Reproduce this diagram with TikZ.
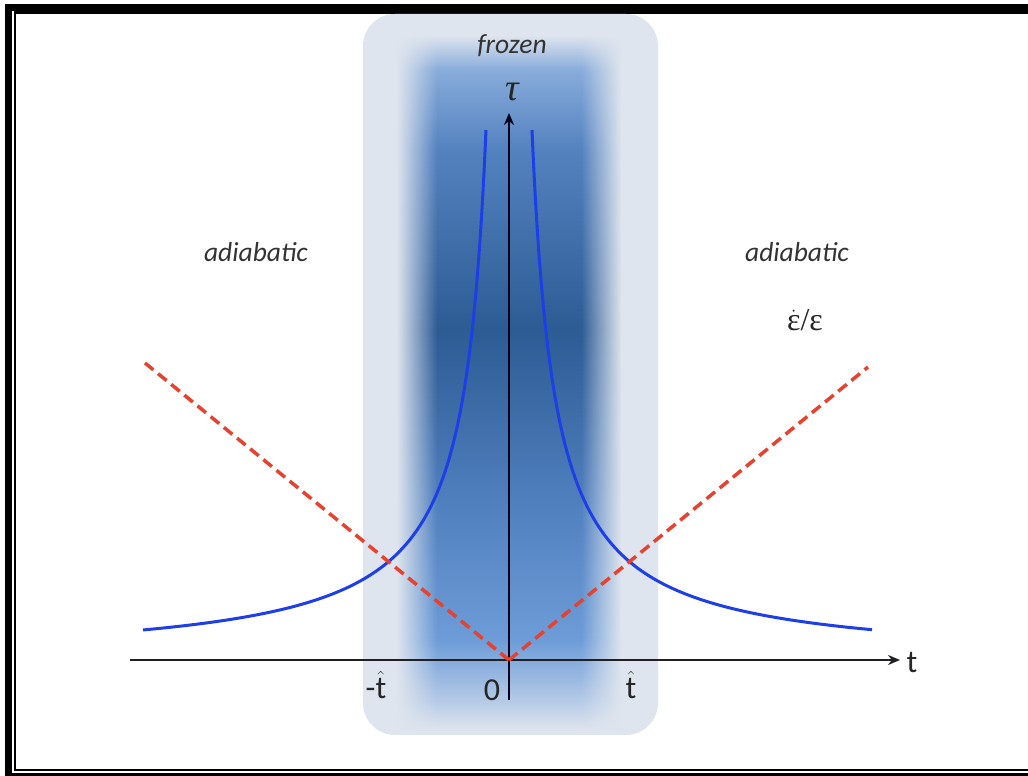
\documentclass[tikz,border=0pt]{standalone}
\usepackage{fontspec}
\setmainfont{Carlito}
\newfontfamily\greekfont{Liberation Serif}
\usetikzlibrary{arrows.meta,fadings}
\definecolor{frozenbg}{HTML}{DFE5EE}
\definecolor{frozenA}{HTML}{B3C9E6}
\definecolor{frozenB}{HTML}{6D9CD8}
\definecolor{frozenC}{HTML}{4F7FBD}
\definecolor{frozenD}{HTML}{2D5B94}
\definecolor{frozenE}{HTML}{5482BF}
\definecolor{frozenF}{HTML}{88ACDB}
\definecolor{taublue}{HTML}{1E3FE6}
\definecolor{ratered}{HTML}{E5432F}
\definecolor{axisgray}{HTML}{1F1F24}
% the middle 50bp of a shading covers the path
\pgfdeclareverticalshading{frozencol}{100bp}{color(0bp)=(frozenbg); color(25bp)=(frozenbg);
  color(27.2bp)=(frozenA); color(31.5bp)=(frozenB); color(41.5bp)=(frozenC);
  color(53.8bp)=(frozenD); color(66.8bp)=(frozenE); color(72.5bp)=(frozenF);
  color(75bp)=(frozenbg); color(100bp)=(frozenbg)}
\pgfdeclarehorizontalshading{sidemask}{100bp}{color(0bp)=(pgftransparent!100);
  color(25bp)=(pgftransparent!100); color(34bp)=(pgftransparent!0);
  color(66bp)=(pgftransparent!0); color(75bp)=(pgftransparent!100);
  color(100bp)=(pgftransparent!100)}
\pgfdeclarefading{sidefade}{\pgfuseshading{sidemask}}
\tikzset{
  regionlabel/.style={font=\fontsize{27.5}{30}\selectfont\itshape, text=black!80, inner sep=0pt},
  axislabel/.style={font=\fontsize{32}{36}\selectfont, text=black!85, inner sep=0pt},
  axisline/.style={draw=axisgray, line width=2.8pt, -{Stealth[length=12pt, width=10pt]}},
  curveblue/.style={draw=taublue, line width=3pt},
  ratiored/.style={draw=ratered, line width=3.5pt, dash pattern=on 11pt off 6pt},
}

\begin{document}
\begin{tikzpicture}[x=1pt,y=1pt]
  \useasboundingbox (-509,-116) rectangle (519,660);

  % double frame
  \draw[line width=7pt] (540,652.5) -- (-500,652.5) -- (-500,-117) -- (540,-117);
  \draw[line width=2.5pt] (540,647.5) -- (-494,647.5) -- (-494,-110) -- (540,-110);

  % frozen region
  \fill[frozenbg, rounded corners=32pt] (-146,-75) rectangle (149,646);
  \shade[shading=frozencol, path fading=sidefade] (-112,-70) rectangle (112,625);

  % axes
  \coordinate (O) at (0,0);
  \coordinate (tstart) at (-379,0);
  \coordinate (tend) at (391,0);
  \coordinate (taubot) at (0,-40);
  \coordinate (tautop) at (0,547);
  \draw[axisline] (tstart) -- (tend);
  \draw[axisline, draw=black!90!blue] (taubot) -- (tautop);

  % relaxation time
  \draw[curveblue] plot[domain=-366:-23, samples=200, smooth] (\x,{12270/(-\x)-3.5});
  \draw[curveblue] plot[domain=23:363, samples=200, smooth] (\x,{12270/\x-3.5});

  % rate of change
  \coordinate (rleft) at (-364,297);
  \coordinate (rright) at (359,293);
  \draw[ratiored] (O) -- (rleft);
  \draw[ratiored] (O) -- (rright);

  % labels
  \node[regionlabel] (frozen) at (3,614) {frozen};
  \node[regionlabel] (adialeft) at (-253,408) {adiabatic};
  \node[regionlabel] (adiaright) at (288,408) {adiabatic};
  \node[axislabel, font=\fontsize{38}{40}\selectfont\greekfont\itshape] (taulab) at (3,568) {τ};
  \node[axislabel] (tlab) at (403,-3) {t};
  \node[axislabel] (mthat) at (-133,-25) {-$\hat{\mbox{t}}$};
  \node[axislabel] (zero) at (-17,-30) {0};
  \node[axislabel] (that) at (122,-25) {$\hat{\mbox{t}}$};
  \node[axislabel] (ratelab) at (296,340) {\greekfont$\dot{\mbox{ε}}$/ε};
\end{tikzpicture}
\end{document}
